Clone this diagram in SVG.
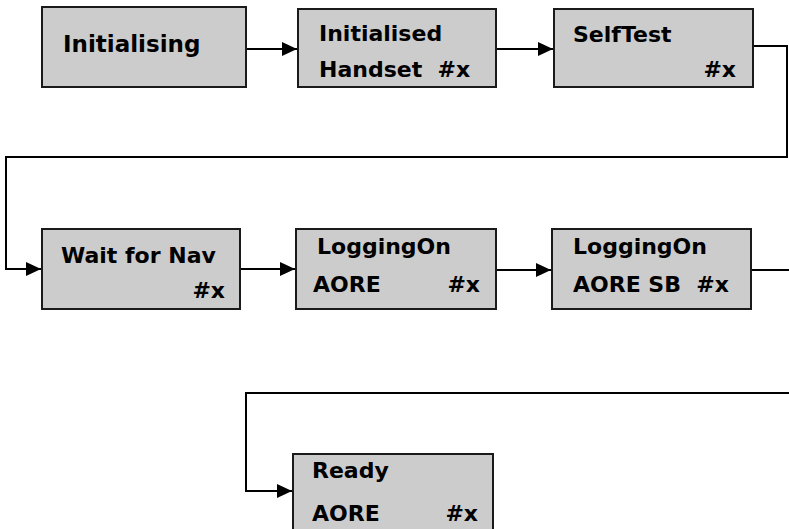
<svg xmlns="http://www.w3.org/2000/svg" width="789" height="529" viewBox="0 0 789 529">
<defs>
<marker id="arr" markerUnits="userSpaceOnUse" markerWidth="16" markerHeight="14" refX="15" refY="7" orient="auto">
<path d="M0,0 L15,7 L0,14 z" fill="#000"/>
</marker>
<style>
.box{fill:#cccccc;stroke:#1a1a1a;stroke-width:2}
.t{font-family:"DejaVu Sans",Verdana,sans-serif;font-weight:bold;font-size:22px;fill:#000}
.c{fill:none;stroke:#000;stroke-width:2}
</style>
</defs>
<rect width="789" height="529" fill="#fff"/>
<g id="connectors">
<path class="c" d="M247,49 H297" marker-end="url(#arr)"/>
<path class="c" d="M496,49 H553" marker-end="url(#arr)"/>
<path class="c" d="M753,46 H787 V157 H6 V269 H41" marker-end="url(#arr)"/>
<path class="c" d="M240,269 H295" marker-end="url(#arr)"/>
<path class="c" d="M496,270 H551" marker-end="url(#arr)"/>
<path class="c" d="M751,270 H790"/>
<path class="c" d="M790,393 H246 V491 H292" marker-end="url(#arr)"/>
</g>
<g id="n1"><rect class="box" x="42" y="7" width="204" height="80"/><text class="t" x="63" y="52" style="font-size:23px">Initialising</text></g>
<g id="n2"><rect class="box" x="298" y="9" width="198" height="78"/><text class="t" x="319" y="41">Initialised</text><text class="t" x="319" y="77" xml:space="preserve">Handset  #x</text></g>
<g id="n3"><rect class="box" x="554" y="9" width="199" height="78"/><text class="t" x="573" y="42">SelfTest</text><text class="t" x="736" y="77" text-anchor="end">#x</text></g>
<g id="n4"><rect class="box" x="42" y="229" width="198" height="80"/><text class="t" x="61" y="263">Wait for Nav</text><text class="t" x="225" y="298" text-anchor="end">#x</text></g>
<g id="n5"><rect class="box" x="296" y="229" width="200" height="80"/><text class="t" x="317" y="254">LoggingOn</text><text class="t" x="313" y="292">AORE</text><text class="t" x="480" y="292" text-anchor="end">#x</text></g>
<g id="n6"><rect class="box" x="552" y="229" width="199" height="80"/><text class="t" x="573" y="254">LoggingOn</text><text class="t" x="573" y="292" xml:space="preserve">AORE SB  #x</text></g>
<g id="n7"><rect class="box" x="293" y="454" width="200" height="90"/><text class="t" x="312" y="478">Ready</text><text class="t" x="312" y="521">AORE</text><text class="t" x="478" y="521" text-anchor="end">#x</text></g>
</svg>
